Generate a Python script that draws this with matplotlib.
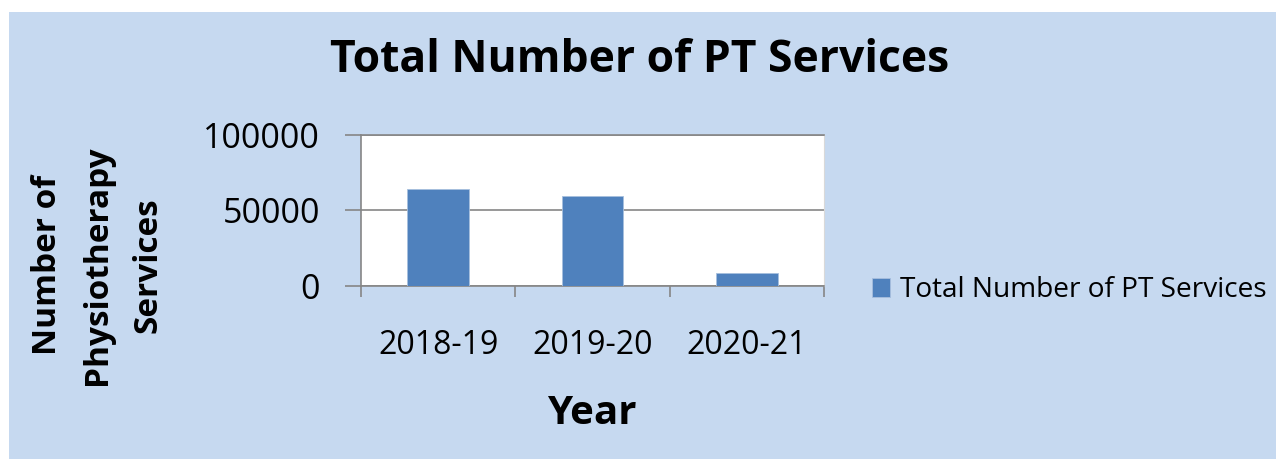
import matplotlib.pyplot as plt
from matplotlib.patches import Rectangle

# values
years = ['2018-19', '2019-20', '2020-21']
services = [63800, 59200, 8200]
series_name = 'Total Number of PT Services'

plt.rcParams['font.family'] = ['Open Sans', 'DejaVu Sans']

bg = '#c6d9f0'
bar_col = '#4f81bd'
axis_col = '#868686'

fig = plt.figure(figsize=(12.76, 4.59), dpi=100, facecolor=bg)
# thin white strip on top and left like the reference
fig.patches.append(Rectangle((0, 1 - 12 / 459), 1, 12 / 459, transform=fig.transFigure,
                             facecolor='white', edgecolor='none'))
fig.patches.append(Rectangle((0, 0), 9 / 1276, 1, transform=fig.transFigure,
                             facecolor='white', edgecolor='none'))

ax = fig.add_axes([361 / 1276, 1 - 285.7 / 459, (824 - 361) / 1276, (285.7 - 134.7) / 459])
ax.set_facecolor('white')

x = range(len(years))
ax.bar(x, services, width=0.4, color=bar_col, edgecolor='#a7bfde', linewidth=0.6,
       label=series_name, zorder=3)

ax.set_ylim(0, 100000)
ax.set_xlim(-0.5, len(years) - 0.5)
ax.set_yticks([0, 50000, 100000])
ax.set_yticklabels(['0', '50000', '100000'])
ax.set_xticks(list(x))
ax.set_xticklabels(years)
ax.set_xticks([i - 0.5 for i in range(len(years) + 1)], minor=True)

ax.yaxis.grid(True, color=axis_col, linewidth=1.2, zorder=1)
ax.tick_params(axis='y', which='major', direction='out', length=11.5, width=1.2,
               color=axis_col, labelsize=24.5, pad=18)
ax.tick_params(axis='x', which='major', length=0, labelsize=23, pad=31)
ax.tick_params(axis='x', which='minor', direction='out', length=8, width=1.2, color=axis_col)

for side in ['left', 'bottom', 'top']:
    ax.spines[side].set_color(axis_col)
    ax.spines[side].set_linewidth(1.2)
ax.spines['right'].set_color('#d9d9d9')
ax.spines['right'].set_linewidth(0.8)

fig.text(640 / 1276, 1 - 60 / 459, 'Total Number of PT Services', ha='center', va='center',
         fontsize=32, fontweight='bold')
fig.text(592 / 1276, 1 - 413 / 459, 'Year', ha='center', va='center',
         fontsize=29, fontweight='bold')
fig.text(98 / 1276, 1 - 265 / 459, 'Number of\nPhysiotherapy\nServices', ha='center', va='center',
         rotation=90, fontsize=24, fontweight='bold', linespacing=1.7)

leg = ax.legend(loc='center left', bbox_to_anchor=(1.08, -0.03), frameon=False, fontsize=20.2,
                handlelength=0.65, handleheight=0.65, handletextpad=0.35, borderaxespad=0)

fig.savefig('out.png', dpi=100, facecolor=bg)
